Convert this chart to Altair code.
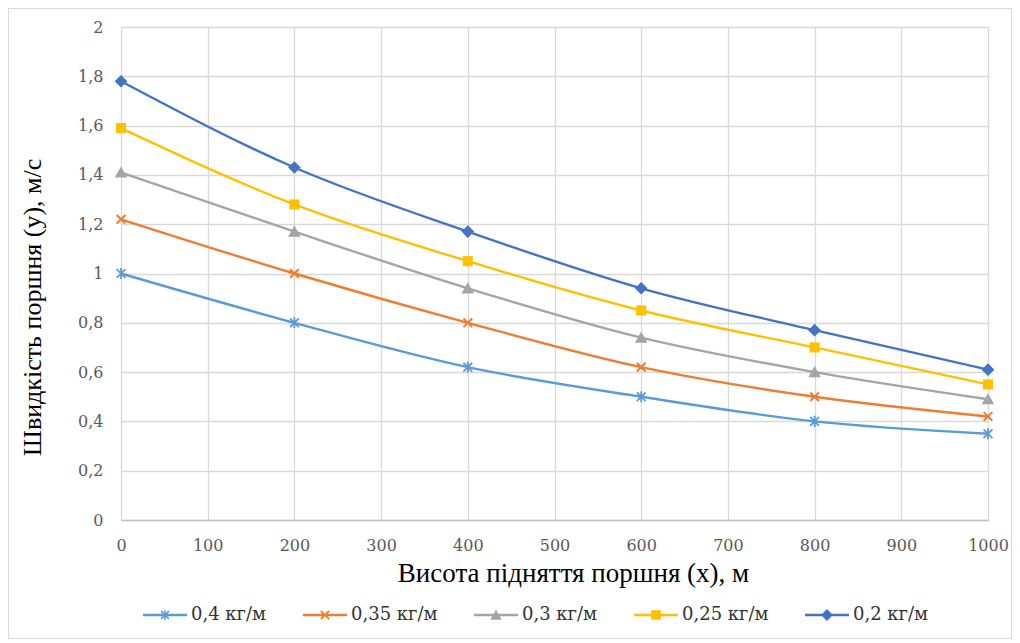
import altair as alt
import pandas as pd

# ---- data ----
heights = [0, 200, 400, 600, 800, 1000]
series_names = ["0,4 кг/м", "0,35 кг/м", "0,3 кг/м", "0,25 кг/м", "0,2 кг/м"]
v_04 = [1.00, 0.80, 0.62, 0.50, 0.40, 0.35]
v_035 = [1.22, 1.00, 0.80, 0.62, 0.50, 0.42]
v_03 = [1.41, 1.17, 0.94, 0.74, 0.60, 0.49]
v_025 = [1.59, 1.28, 1.05, 0.85, 0.70, 0.55]
v_02 = [1.78, 1.43, 1.17, 0.94, 0.77, 0.61]
x_ticks = [0, 100, 200, 300, 400, 500, 600, 700, 800, 900, 1000]
y_ticks = [0, 0.2, 0.4, 0.6, 0.8, 1.0, 1.2, 1.4, 1.6, 1.8, 2.0]

colors = ["#5B9BD5", "#ED7D31", "#A5A5A5", "#FFC000", "#4472C4"]

rows = []
for name, vals in zip(series_names, [v_04, v_035, v_03, v_025, v_02]):
    for h, v in zip(heights, vals):
        rows.append({"x": h, "y": v, "series": name})
df = pd.DataFrame(rows)

# ---- marker shapes (unit coords, filled polygons) ----
def fmt(pts):
    return "M" + "L".join(f"{px:.3f},{py:.3f}" for px, py in pts) + "Z"

def x_shape(a, d):
    p1 = [(-a, -a + d), (-a + d, -a), (a, a - d), (a - d, a)]
    p2 = [(a - d, -a), (a, -a + d), (-a + d, a), (-a, a - d)]
    return fmt(p1) + fmt(p2)

def star_shape(a, d, w):
    return x_shape(a, d) + fmt([(-w, -a * 1.1), (w, -a * 1.1), (w, a * 1.1), (-w, a * 1.1)])

def diamond(a):
    return fmt([(0, -a), (a, 0), (0, a), (-a, 0)])

def square(a):
    return fmt([(-a, -a), (a, -a), (a, a), (-a, a)])

def triangle(a):
    return fmt([(0, -a), (a * 1.05, a * 0.85), (-a * 1.05, a * 0.85)])

plot_shapes = [
    star_shape(0.8, 0.2, 0.14),
    x_shape(0.8, 0.23),
    triangle(0.95),
    square(0.8),
    diamond(1.0),
]

line_seg = fmt([(-1, -0.055), (1, -0.055), (1, 0.055), (-1, 0.055)])
legend_shapes = [
    line_seg + star_shape(0.2, 0.05, 0.035),
    line_seg + x_shape(0.22, 0.06),
    line_seg + triangle(0.25),
    line_seg + square(0.22),
    line_seg + diamond(0.27),
]

TITLE_FONT = "Liberation Serif"
LABEL_FONT = "DejaVu Serif"
TICK_SIZE = 16

color_scale = alt.Scale(domain=series_names, range=colors)

x_enc = alt.X(
    "x:Q",
    scale=alt.Scale(domain=[0, 1000], nice=False),
    axis=alt.Axis(
        values=x_ticks,
        title="Висота підняття поршня (x), м",
        grid=True,
        ticks=False,
        labelPadding=17,
        titlePadding=7,
        labelFlush=False,
        labelFont=LABEL_FONT,
        labelFontSize=TICK_SIZE,
        labelColor="#595959",
        titleFont=TITLE_FONT,
        titleFontSize=27,
        titleX=452,
        labelExpr="format(datum.value, 'd')",
    ),
)
y_enc = alt.Y(
    "y:Q",
    scale=alt.Scale(domain=[0, 2], nice=False),
    axis=alt.Axis(
        values=y_ticks,
        title="Швидкість поршня (y), м/с",
        grid=True,
        ticks=False,
        domain=False,
        labelPadding=18,
        titlePadding=32,
        labelFlush=False,
        labelFont=LABEL_FONT,
        labelFontSize=TICK_SIZE,
        labelColor="#595959",
        titleFont=TITLE_FONT,
        titleFontSize=26,
        titleY=280,
        labelExpr="replace(format(datum.value, '.1~f'), '.', ',')",
    ),
)

base = alt.Chart(df)

lines = base.mark_line(interpolate="monotone", strokeWidth=2.4).encode(
    x=x_enc,
    y=y_enc,
    color=alt.Color("series:N", scale=color_scale, legend=None),
    detail="series:N",
)

points = base.mark_point(filled=True, opacity=1, size=160, strokeWidth=0).encode(
    x="x:Q",
    y="y:Q",
    color=alt.Color("series:N", scale=color_scale, legend=None),
    shape=alt.Shape("series:N", scale=alt.Scale(domain=series_names, range=plot_shapes), legend=None),
)

def make_legend():
    return alt.Legend(
        title=None,
        orient="none",
        direction="horizontal",
        legendX=22,
        legendY=566,
        symbolSize=1936,
        symbolStrokeWidth=0,
        labelFont=LABEL_FONT,
        labelFontSize=18,
        labelColor="#333333",
        labelOffset=4,
        columnPadding=36,
    )

legend_layer = base.transform_filter("datum.x < 0").mark_point(
    filled=True, opacity=1, size=1936, strokeWidth=0
).encode(
    x="x:Q",
    y="y:Q",
    color=alt.Color("series:N", scale=alt.Scale(domain=series_names, range=colors), legend=make_legend()),
    shape=alt.Shape("series:N", scale=alt.Scale(domain=series_names, range=legend_shapes), legend=make_legend()),
)

# decorative outer frame of the chart area (not data)
frame = alt.Chart(pd.DataFrame({"f": [0]})).mark_rect(
    filled=False, stroke="#D9D9D9", strokeWidth=1.2
).encode(
    x=alt.value(-112.5),
    x2=alt.value(890.5),
    y=alt.value(-18.5),
    y2=alt.value(611.5),
)

chart = (
    alt.layer(lines, points, legend_layer, frame)
    .resolve_scale(color="independent", shape="independent")
    .properties(
        width=867,
        height=493,
        autosize=alt.AutoSizeParams(type="none"),
        padding={"left": 113, "top": 19, "right": 24, "bottom": 119},
        background="white",
    )
    .configure_view(stroke=None)
    .configure_axis(
        titleFontWeight="normal",
        titleColor="#000000",
        gridColor="#D9D9D9",
        gridWidth=1.3,
        domainColor="#BFBFBF",
        domainWidth=1.5,
    )
)

chart.save("out.html", embed_options={"renderer": "svg", "actions": False})
